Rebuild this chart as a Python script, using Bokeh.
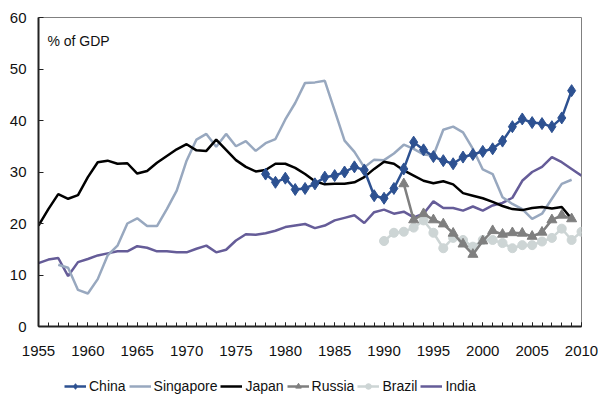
from bokeh.plotting import figure
from bokeh.models import (Range1d, FixedTicker, Label, Legend, LegendItem)
from bokeh.layouts import column
from bokeh.embed import file_html
from bokeh.resources import INLINE

FONT = "Liberation Sans"

japan_years = list(range(1955, 2010))
japan = [19.6, 22.8, 25.7, 24.8, 25.5, 29.0, 31.9, 32.2, 31.6, 31.7,
         29.7, 30.2, 31.8, 33.1, 34.4, 35.4, 34.2, 34.1, 36.3, 34.3,
         32.3, 31.0, 30.1, 30.4, 31.6, 31.6, 30.8, 29.6, 28.2, 27.6,
         27.7, 27.7, 28.0, 29.0, 30.6, 32.0, 31.6, 30.3, 29.3, 28.3,
         27.8, 28.2, 27.6, 25.9, 25.4, 24.9, 24.2, 23.4, 22.8, 22.6,
         23.0, 23.2, 22.9, 23.2, 20.9]

singapore_years = list(range(1957, 2010))
singapore = [12.0, 11.4, 7.1, 6.4, 9.2, 13.8, 15.7, 20.0, 21.0, 19.5,
             19.5, 22.8, 26.4, 32.2, 36.3, 37.4, 34.9, 37.4, 35.0, 36.0,
             34.1, 35.6, 36.4, 40.2, 43.4, 47.3, 47.4, 47.7, 41.9, 36.1,
             33.9, 30.9, 32.4, 32.3, 33.6, 35.3, 34.5, 33.4, 33.2, 38.2,
             38.8, 37.7, 34.5, 30.5, 29.6, 25.1, 23.8, 22.8, 20.9, 21.9,
             24.8, 27.7, 28.5]

india_years = list(range(1955, 2011))
india = [12.3, 13.0, 13.3, 9.8, 12.5, 13.1, 13.8, 14.2, 14.6, 14.6,
         15.6, 15.3, 14.6, 14.6, 14.4, 14.4, 15.1, 15.7, 14.4, 14.9,
         16.7, 17.9, 17.8, 18.1, 18.6, 19.3, 19.6, 19.9, 19.1, 19.6,
         20.6, 21.1, 21.6, 20.1, 22.2, 22.7, 21.9, 22.3, 21.2, 21.9,
         24.3, 23.0, 23.0, 22.5, 23.3, 22.5, 23.5, 24.0, 25.0, 28.3,
         30.0, 31.0, 32.9, 31.9, 30.6, 29.3]

china_years = list(range(1978, 2010))
china = [29.6, 28.0, 28.8, 26.6, 26.8, 27.7, 29.0, 29.3, 30.0, 31.0,
         30.4, 25.4, 24.9, 26.8, 30.6, 35.8, 34.3, 33.0, 32.2, 31.6,
         32.9, 33.4, 34.0, 34.5, 36.0, 38.8, 40.3, 39.6, 39.4, 38.8,
         40.5, 45.8]

russia_years = list(range(1992, 2010))
russia = [27.7, 20.7, 21.9, 20.7, 19.9, 18.1, 16.0, 14.0, 16.6, 18.6,
          17.9, 18.2, 18.1, 17.5, 18.3, 20.7, 21.6, 20.9]

brazil_years = list(range(1990, 2011))
brazil = [16.6, 18.2, 18.4, 19.2, 20.6, 18.2, 15.2, 17.2, 16.8, 15.5,
          16.8, 16.8, 16.2, 15.2, 15.8, 15.8, 16.5, 17.2, 19.0, 16.8, 18.4]

x_tick_labels = list(range(1955, 2011, 5))
y_ticks = [0, 10, 20, 30, 40, 50, 60]

C_CHINA = "#2D5191"
C_SING = "#98A8BF"
C_JAPAN = "#000000"
C_RUSSIA = "#7F7F7F"
C_BRAZIL = "#CDD5D5"
C_INDIA = "#655C98"


def draw_series(fig):
    r = {}
    r["india"] = fig.line(india_years, india, line_color=C_INDIA, line_width=2.5)
    r["sing"] = fig.line(singapore_years, singapore, line_color=C_SING, line_width=2.5)
    r["japan"] = fig.line(japan_years, japan, line_color=C_JAPAN, line_width=2.5)
    r["brazil_l"] = fig.line(brazil_years, brazil, line_color=C_BRAZIL, line_width=2.5)
    r["brazil_m"] = fig.scatter(brazil_years, brazil, marker="circle", size=9,
                                fill_color=C_BRAZIL, line_color=C_BRAZIL)
    r["russia_l"] = fig.line(russia_years, russia, line_color=C_RUSSIA, line_width=2.5)
    r["russia_m"] = fig.scatter(russia_years, russia, marker="triangle", size=10,
                                fill_color=C_RUSSIA, line_color=C_RUSSIA)
    r["china_l"] = fig.line(china_years, china, line_color=C_CHINA, line_width=2.5)
    r["china_m"] = fig.scatter(china_years, china, marker="diamond", size=12,
                               fill_color=C_CHINA, line_color=C_CHINA)
    return r


p = figure(width=598, height=370, output_backend="svg",
           toolbar_location=None, x_range=Range1d(1955, 2010),
           y_range=Range1d(0, 60), min_border_left=38, min_border_right=17,
           min_border_top=17, min_border_bottom=44)
p.xgrid.visible = False
p.ygrid.visible = False
p.outline_line_color = "#808080"
p.outline_line_width = 1
p.background_fill_color = "white"
p.border_fill_color = "white"

for ax in (p.xaxis[0], p.yaxis[0]):
    ax.axis_line_color = "#222222"
    ax.axis_line_width = 2
    ax.major_tick_line_color = "#222222"
    ax.minor_tick_line_color = "#222222"
    ax.major_label_text_font = FONT
    ax.major_label_text_font_size = "15px"
    ax.major_label_text_color = "#111111"
    ax.major_tick_out = 0
    ax.minor_tick_out = 0

p.xaxis.ticker = FixedTicker(ticks=x_tick_labels, minor_ticks=list(range(1955, 2011)))
p.xaxis.major_tick_in = 4
p.xaxis.minor_tick_in = 4
p.xaxis.major_label_standoff = 19
p.yaxis.ticker = FixedTicker(ticks=y_ticks)
p.yaxis.major_tick_in = 5
p.yaxis.minor_tick_line_color = None
p.yaxis.major_label_standoff = 12

draw_series(p)

p.add_layout(Label(x=1955.9, y=55.5, text="% of GDP", text_font=FONT,
                   text_font_size="14px", text_baseline="middle",
                   text_color="#111111"))

# legend strip below the chart
lg = figure(width=598, height=31, output_backend="svg", toolbar_location=None,
            x_range=Range1d(0, 1), y_range=Range1d(1000, 1001),
            x_axis_location=None, y_axis_location=None,
            min_border_left=0, min_border_right=0, min_border_top=0,
            min_border_bottom=0)
lg.xgrid.visible = False
lg.ygrid.visible = False
lg.outline_line_color = None
lg.background_fill_color = "white"
lg.border_fill_color = "white"
lr = draw_series(lg)

legend = Legend(items=[
    LegendItem(label="China", renderers=[lr["china_l"], lr["china_m"]]),
    LegendItem(label="Singapore", renderers=[lr["sing"]]),
    LegendItem(label="Japan", renderers=[lr["japan"]]),
    LegendItem(label="Russia", renderers=[lr["russia_l"], lr["russia_m"]]),
    LegendItem(label="Brazil", renderers=[lr["brazil_l"], lr["brazil_m"]]),
    LegendItem(label="India", renderers=[lr["india"]]),
], orientation="horizontal", location=(26, 5),
    label_text_font=FONT, label_text_font_size="14px",
    label_text_color="#111111", glyph_width=22, glyph_height=14,
    label_height=20, label_standoff=3, spacing=3, padding=0, margin=0,
    border_line_color=None, background_fill_alpha=0)
lg.add_layout(legend, "center")

layout = column(p, lg, spacing=0)
open("out.html", "w").write(file_html(layout, INLINE))
